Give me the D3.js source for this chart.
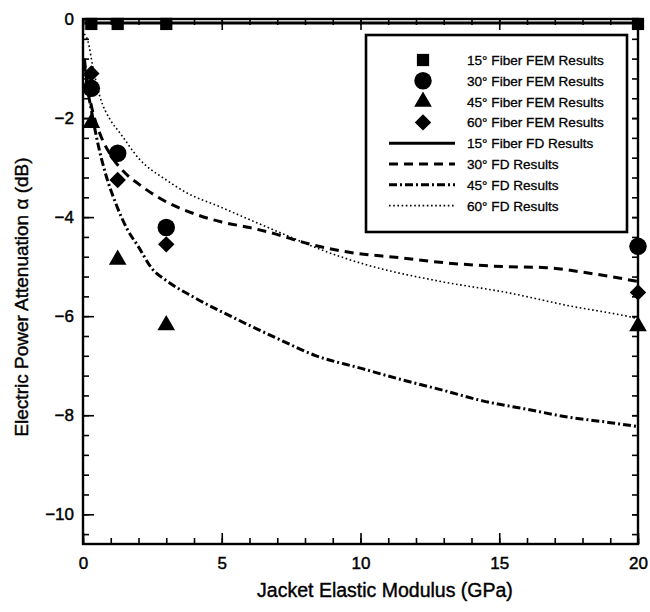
<!DOCTYPE html>
<html>
<head>
<meta charset="utf-8">
<script src="https://cdn.jsdelivr.net/npm/d3@7"></script>
<style>
  body { margin: 0; background: #fff; }
  svg { display: block; }
  text { font-family: "Liberation Sans", Arial, Helvetica, sans-serif; fill: #000; }
</style>
</head>
<body>
<div id="chart"></div>
<script>
// FEM results (markers)
const femX = [0.3, 1.25, 3, 20];
const fem15 = [-0.1, -0.1, -0.1, -0.1];
const fem30 = [-1.4, -2.71, -4.21, -4.59];
const fem45 = [-2.1, -4.86, -6.18, -6.2];
const fem60 = [-1.1, -3.25, -4.55, -5.52];

// FD results (curves)
const fd15X = [0.05, 1, 3, 5, 10, 15, 20];
const fd15Y = [-0.08, -0.08, -0.08, -0.08, -0.08, -0.08, -0.08];
const fd30X = [0.05, 0.15, 0.3, 0.6, 1, 1.5, 2, 2.8, 4, 5, 6, 6.8, 8.2, 9.6, 11.4, 13, 15.2, 16.7, 18.1, 19, 20];
const fd30Y = [-0.8, -1.3, -1.75, -2.3, -2.75, -3.1, -3.33, -3.63, -3.93, -4.1, -4.21, -4.32, -4.55, -4.71, -4.82, -4.92, -5.0, -5.02, -5.12, -5.2, -5.3];
const fd45X = [0.05, 0.15, 0.32, 0.55, 0.8, 1.2, 1.6, 2, 2.5, 3, 4, 5.5, 7, 8.4, 10, 11.4, 13, 14.4, 16, 17.4, 19, 20];
const fd45Y = [-0.9, -1.35, -1.9, -2.55, -3.1, -3.75, -4.25, -4.6, -5.05, -5.28, -5.62, -6.05, -6.45, -6.8, -7.05, -7.27, -7.5, -7.71, -7.88, -8.03, -8.15, -8.23];
const fd60X = [0.05, 0.18, 0.35, 0.6, 1, 1.33, 2.05, 3, 3.74, 4.93, 6, 7.55, 8.4, 10.2, 13, 15.25, 17.6, 19.6, 20];
const fd60Y = [-0.3, -0.45, -0.95, -1.55, -2.05, -2.3, -2.84, -3.25, -3.51, -3.79, -4.05, -4.42, -4.62, -4.96, -5.31, -5.52, -5.8, -6.0, -6.05];

const legendLabels = [
  "15° Fiber FEM Results", "30° Fiber FEM Results", "45° Fiber FEM Results", "60° Fiber FEM Results",
  "15° Fiber FD Results", "30° FD Results", "45° FD Results", "60° FD Results"
];
const xTicks = [0, 5, 10, 15, 20];
const yTicks = [0, -2, -4, -6, -8, -10];

const W = 650, H = 612;
const m = {left: 83, right: 12, top: 19, bottom: 68};

const svg = d3.select("#chart").append("svg").attr("width", W).attr("height", H);

const x = d3.scaleLinear().domain([0, 20]).range([m.left, W - m.right]);
const y = d3.scaleLinear().domain([-10.6, 0]).range([H - m.bottom, m.top]);

const xMinor = d3.range(0, 20.01, 1);
const yMinor = d3.range(0, -10.61, -0.4);

// axes, ticks pointing inward
function tickAxis(axis, values, size, labels) {
  return axis.tickValues(values).tickSize(size).tickSizeOuter(0)
    .tickFormat(labels ? d3.format("d") : "");
}
const gAx = svg.append("g").attr("class", "axes");
gAx.append("g").attr("transform", `translate(0,${y(-10.6)})`)
  .call(tickAxis(d3.axisBottom(x), xMinor, -6, false));
const xLab = gAx.append("g").attr("transform", `translate(0,${y(-10.6)})`)
  .call(tickAxis(d3.axisBottom(x), xTicks, -11, true));
gAx.append("g").attr("transform", `translate(0,${y(0)})`)
  .call(tickAxis(d3.axisTop(x), xMinor, -6, false));
gAx.append("g").attr("transform", `translate(0,${y(0)})`)
  .call(tickAxis(d3.axisTop(x), xTicks, -11, false));
gAx.append("g").attr("transform", `translate(${x(0)},0)`)
  .call(tickAxis(d3.axisLeft(y), yMinor, -6, false));
const yLab = gAx.append("g").attr("transform", `translate(${x(0)},0)`)
  .call(tickAxis(d3.axisLeft(y), yTicks, -11, true));
gAx.append("g").attr("transform", `translate(${x(20)},0)`)
  .call(tickAxis(d3.axisRight(y), yMinor, -6, false));
gAx.append("g").attr("transform", `translate(${x(20)},0)`)
  .call(tickAxis(d3.axisRight(y), yTicks, -6, false));

gAx.selectAll(".domain").remove();
gAx.selectAll(".tick line").attr("stroke", "#000").attr("stroke-width", 1.6);
gAx.selectAll(".tick text")
  .attr("font-size", 17).attr("font-family", "Liberation Sans, Arial, sans-serif")
  .attr("fill", "#000").attr("stroke", "#000").attr("stroke-width", 0.45);
xLab.selectAll(".tick text").attr("y", 13);
yLab.selectAll(".tick text").attr("x", -9);

// frame
svg.append("rect")
  .attr("x", x(0)).attr("y", y(0))
  .attr("width", x(20) - x(0)).attr("height", y(-10.6) - y(0))
  .attr("fill", "none").attr("stroke", "#000").attr("stroke-width", 2.4);

// FD lines
const lineStyles = [
  {w: 3, dash: null},
  {w: 3, dash: "9,6"},
  {w: 3, dash: "8,3,2,3"},
  {w: 1.6, dash: "1.6,2.6"}
];
const fdSeries = [
  fd15X.map((v, i) => [v, fd15Y[i]]),
  fd30X.map((v, i) => [v, fd30Y[i]]),
  fd45X.map((v, i) => [v, fd45Y[i]]),
  fd60X.map((v, i) => [v, fd60Y[i]])
];
const line = d3.line().x(d => x(d[0])).y(d => y(d[1])).curve(d3.curveMonotoneX);
svg.append("g").selectAll("path").data(fdSeries).join("path")
  .attr("d", line)
  .attr("fill", "none").attr("stroke", "#000")
  .attr("stroke-width", (d, i) => lineStyles[i].w)
  .attr("stroke-dasharray", (d, i) => lineStyles[i].dash);

// FEM markers (diamond = square turned 45°)
const symbols = [
  d3.symbol(d3.symbolSquare, 150),
  d3.symbol(d3.symbolCircle, 240),
  d3.symbol(d3.symbolTriangle, 135),
  d3.symbol(d3.symbolSquare, 135)
];
const rot = [0, 0, 0, 45];
const femSeries = [fem15, fem30, fem45, fem60];
femSeries.forEach((ys, s) => {
  svg.append("g").selectAll("path").data(femX.map((v, i) => [v, ys[i]])).join("path")
    .attr("transform", d => `translate(${x(d[0])},${y(d[1])}) rotate(${rot[s]})`)
    .attr("d", symbols[s]).attr("fill", "#000");
});

// legend
const lg = svg.append("g").attr("transform", "translate(366,35)");
lg.append("rect").attr("width", 261).attr("height", 197)
  .attr("fill", "#fff").attr("stroke", "#000").attr("stroke-width", 2.6);
const rowY = i => 25 + i * 20.8;
legendLabels.forEach((lab, i) => {
  if (i < 4) {
    lg.append("path").attr("transform", `translate(57,${rowY(i)}) rotate(${rot[i]})`)
      .attr("d", symbols[i]).attr("fill", "#000");
  } else {
    const st = lineStyles[i - 4];
    lg.append("line").attr("x1", 23).attr("x2", 89).attr("y1", rowY(i)).attr("y2", rowY(i))
      .attr("stroke", "#000").attr("stroke-width", st.w).attr("stroke-dasharray", st.dash);
  }
  lg.append("text").attr("x", 101).attr("y", rowY(i) + 5)
    .attr("font-size", 13.6).attr("stroke", "#000").attr("stroke-width", 0.3)
    .text(lab);
});

// axis titles
svg.append("text").attr("x", 385).attr("y", 597).attr("text-anchor", "middle")
  .attr("font-size", 19.5).attr("stroke", "#000").attr("stroke-width", 0.4)
  .text("Jacket Elastic Modulus (GPa)");
svg.append("text").attr("transform", "translate(28,297) rotate(-90)").attr("text-anchor", "middle")
  .attr("font-size", 19).attr("stroke", "#000").attr("stroke-width", 0.4)
  .text("Electric Power Attenuation α (dB)");
</script>
</body>
</html>
